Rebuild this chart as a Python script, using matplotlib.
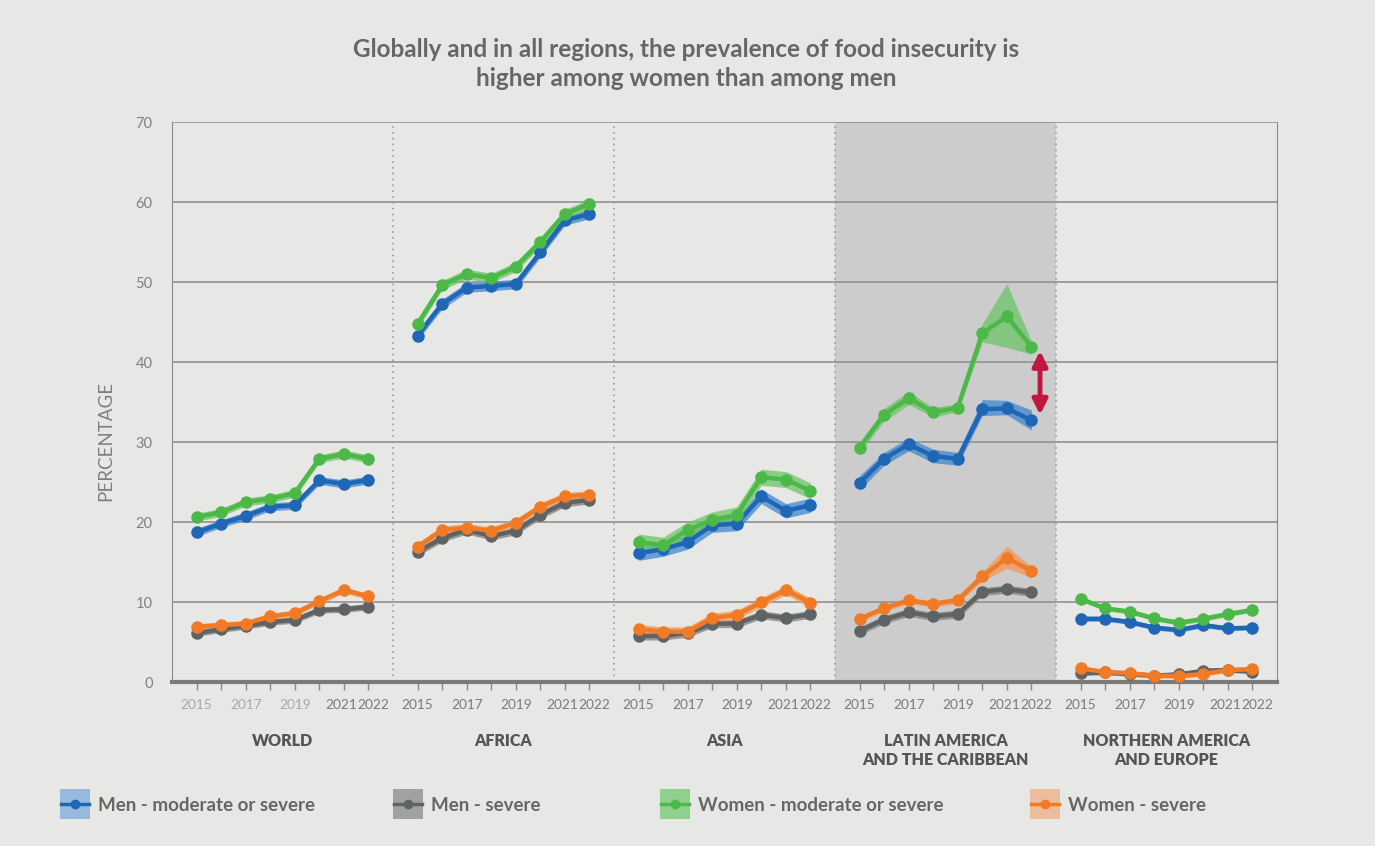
import numpy as np
import matplotlib
matplotlib.use("Agg")
import matplotlib.pyplot as plt
import matplotlib.transforms as mtransforms
from matplotlib.patches import Rectangle
from matplotlib.lines import Line2D

plt.rcParams['font.family'] = ['Lato', 'DejaVu Sans']

## data (percent), one row per region, years 2015..2022
years = [2015, 2016, 2017, 2018, 2019, 2020, 2021, 2022]
regions = ["WORLD", "AFRICA", "ASIA", "LATIN AMERICA\nAND THE CARIBBEAN",
           "NORTHERN AMERICA\nAND EUROPE"]
shown_years = [2015, 2017, 2019, 2021, 2022]

men_mod = [
    [18.7, 19.8, 20.75, 21.9, 22.1, 25.2, 24.75, 25.25],
    [43.3, 47.25, 49.3, 49.5, 49.75, 53.7, 57.7, 58.5],
    [16.1, 16.6, 17.5, 19.6, 19.8, 23.2, 21.4, 22.1],
    [24.9, 27.9, 29.7, 28.25, 27.9, 34.1, 34.2, 32.7],
    [7.9, 7.9, 7.5, 6.8, 6.5, 7.1, 6.7, 6.8],
]
men_sev = [
    [6.1, 6.6, 7.0, 7.5, 7.75, 9.0, 9.1, 9.4],
    [16.25, 18.0, 19.0, 18.25, 18.9, 20.9, 22.4, 22.75],
    [5.75, 5.75, 6.1, 7.3, 7.3, 8.4, 8.0, 8.45],
    [6.4, 7.8, 8.7, 8.2, 8.5, 11.3, 11.6, 11.2],
    [1.1, 1.2, 1.0, 0.8, 0.95, 1.4, 1.5, 1.3],
]
women_mod = [
    [20.6, 21.2, 22.5, 22.9, 23.6, 27.9, 28.5, 27.9],
    [44.75, 49.6, 51.0, 50.5, 51.9, 55.0, 58.5, 59.75],
    [17.5, 17.1, 19.0, 20.25, 20.9, 25.6, 25.3, 23.9],
    [29.3, 33.4, 35.5, 33.7, 34.3, 43.6, 45.7, 41.9],
    [10.4, 9.2, 8.8, 7.95, 7.4, 7.9, 8.5, 9.0],
]
women_sev = [
    [6.9, 7.1, 7.3, 8.2, 8.6, 10.1, 11.5, 10.7],
    [16.9, 19.0, 19.3, 18.9, 19.9, 21.9, 23.2, 23.4],
    [6.6, 6.3, 6.3, 8.0, 8.4, 9.95, 11.5, 9.9],
    [7.9, 9.2, 10.2, 9.75, 10.25, 13.2, 15.5, 13.9],
    [1.7, 1.25, 1.1, 0.8, 0.75, 1.0, 1.5, 1.6],
]

## confidence band half widths per region
men_mod_band = [0.5, 0.6, 0.9, 0.8, 0.3]
men_sev_band = [0.4, 0.5, 0.5, 0.5, 0.3]
women_mod_band = [0.5, 0.6, 1.0, 0.7, 0.3]
women_sev_band = [0.4, 0.5, 0.6, 0.4, 0.3]

## latin america has wider, uneven bands
lac_men_mod_lo = [24.0, 27.1, 28.9, 27.4, 27.1, 33.3, 33.4, 31.5]
lac_men_mod_hi = [25.8, 28.7, 30.5, 29.1, 28.7, 35.3, 35.2, 34.0]
lac_women_mod_lo = [28.7, 32.6, 34.7, 33.1, 33.8, 42.5, 41.8, 41.0]
lac_women_mod_hi = [29.9, 34.2, 36.3, 34.3, 34.8, 44.8, 49.8, 42.6]
lac_women_sev_lo = [7.5, 8.8, 9.8, 9.35, 9.85, 12.6, 14.2, 13.1]
lac_women_sev_hi = [8.3, 9.6, 10.6, 10.15, 10.65, 13.8, 17.0, 14.4]

## series styles: label, values, band, lac override, line colour, band colour, legend colour
series = [
    ("Men - severe", men_sev, men_sev_band, None, "#5f6364", "#7d8081", "#a0a2a2"),
    ("Men - moderate or severe", men_mod, men_mod_band, (lac_men_mod_lo, lac_men_mod_hi),
     "#1f66b5", "#3d88d0", "#96b9dc"),
    ("Women - severe", women_sev, women_sev_band, (lac_women_sev_lo, lac_women_sev_hi),
     "#f07a26", "#f39a55", "#ecbd9d"),
    ("Women - moderate or severe", women_mod, women_mod_band, (lac_women_mod_lo, lac_women_mod_hi),
     "#4bb848", "#6cc468", "#8fd08c"),
]
legend_order = [1, 0, 3, 2]

bg = "#e7e8e6"
grey = "#8a8a8a"

W, H = 1375, 846
fig = plt.figure(figsize=(W / 100, H / 100), dpi=100, facecolor=bg)
ax = fig.add_axes([172 / W, 1 - 682 / H, (1277 - 172) / W, (682 - 122) / H])
ax.set_facecolor(bg)

n = len(years)
step = n + 1
xs = [np.arange(1, n + 1) + r * step for r in range(len(regions))]

## shaded latin america panel
ax.axvspan(3 * step, 4 * step, color="#cccccc", zorder=0, lw=0)

## grid + dividers
for yv in range(10, 71, 10):
    ax.axhline(yv, color=grey, lw=1.1, zorder=1)
for r in range(1, len(regions)):
    ax.axvline(r * step, color="#9a9a9a", lw=1.2, ls=(0, (1, 2.5)), zorder=1)

for label, vals, band, lac, lc, bc, _ in series:
    for r in range(len(regions)):
        v = np.array(vals[r])
        if r == 3 and lac is not None:
            lo, hi = np.array(lac[0]), np.array(lac[1])
        else:
            lo, hi = v - band[r], v + band[r]
        ax.fill_between(xs[r], lo, hi, color=bc, alpha=0.75, lw=0, zorder=2)
        ax.plot(xs[r], v, color=lc, lw=3.2, marker="o", markersize=8, zorder=3,
                solid_joinstyle="round")

## gap arrow in latin america 2022
x_arrow = xs[3][-1] + 0.35
ax.annotate("", xy=(x_arrow, 41.4), xytext=(x_arrow, 33.4),
            arrowprops=dict(arrowstyle="<|-|>", color="#c0173f", lw=3.5,
                            mutation_scale=22, shrinkA=0, shrinkB=0), zorder=4)

ax.set_xlim(0, len(regions) * step)
ax.set_ylim(0, 70)

## axes styling
ax.spines["top"].set_visible(False)
ax.spines["left"].set_color(grey)
ax.spines["right"].set_color(grey)
ax.spines["bottom"].set_color("#7a7a7a")
ax.spines["bottom"].set_linewidth(3)

ax.set_yticks(range(0, 71, 10))
ax.tick_params(axis="y", length=0, pad=14, labelsize=10.5, labelcolor="#808080")

tick_pos = np.concatenate(xs)
tick_lab = []
for r in range(len(regions)):
    for y in years:
        tick_lab.append(str(y) if y in shown_years else "")
ax.set_xticks(tick_pos)
ax.set_xticklabels(tick_lab)
ax.tick_params(axis="x", length=6, width=1, color=grey, pad=6, labelsize=9.8,
               labelcolor="#7a7a7a", direction="out")
# 2021 and 2022 sit side by side: nudge them apart
nudge_l = mtransforms.ScaledTranslation(-3 / 100, 0, fig.dpi_scale_trans)
nudge_r = mtransforms.ScaledTranslation(5 / 100, 0, fig.dpi_scale_trans)
for i, t in enumerate(ax.get_xticklabels()):
    if i < 5:
        t.set_color("#a8a8a8")
    if tick_lab[i] == "2021":
        t.set_transform(t.get_transform() + nudge_l)
    elif tick_lab[i] == "2022":
        t.set_transform(t.get_transform() + nudge_r)

ax.set_ylabel("PERCENTAGE", fontsize=13.5, color="#808080")
ax.yaxis.set_label_coords(-0.052, 0.43)

## region names under the panels
trans = mtransforms.blended_transform_factory(ax.transData, fig.transFigure)
for r, name in enumerate(regions):
    ax.text(r * step + step / 2, 1 - 733 / H, name, transform=trans, ha="center", va="top",
            fontsize=11.5, fontweight="heavy", color="#555555", linespacing=1.2)

## title
fig.text(0.499, 1 - 64 / H,
         "Globally and in all regions, the prevalence of food insecurity is\n"
         "higher among women than among men",
         ha="center", va="center", fontsize=17.5, fontweight="bold", color="#666666",
         linespacing=1.35)

## legend
leg_x = [60, 393, 660, 1030]
for lx, idx in zip(leg_x, legend_order):
    label, _, _, _, lc, _, pc = series[idx]
    fig.add_artist(Rectangle((lx / W, 1 - 819 / H), 30 / W, 30 / H,
                             transform=fig.transFigure, color=pc, lw=0))
    fig.add_artist(Line2D([(lx + 1) / W, (lx + 29) / W], [1 - 804 / H, 1 - 804 / H],
                          transform=fig.transFigure, color=lc, lw=2.5))
    fig.add_artist(Line2D([(lx + 15) / W], [1 - 804 / H], transform=fig.transFigure,
                          color=lc, marker="o", markersize=6, lw=0))
    fig.text((lx + 38) / W, 1 - 805 / H, label, ha="left", va="center",
             fontsize=13.5, fontweight="bold", color="#666666")

fig.savefig("out.png", dpi=100, facecolor=bg)
